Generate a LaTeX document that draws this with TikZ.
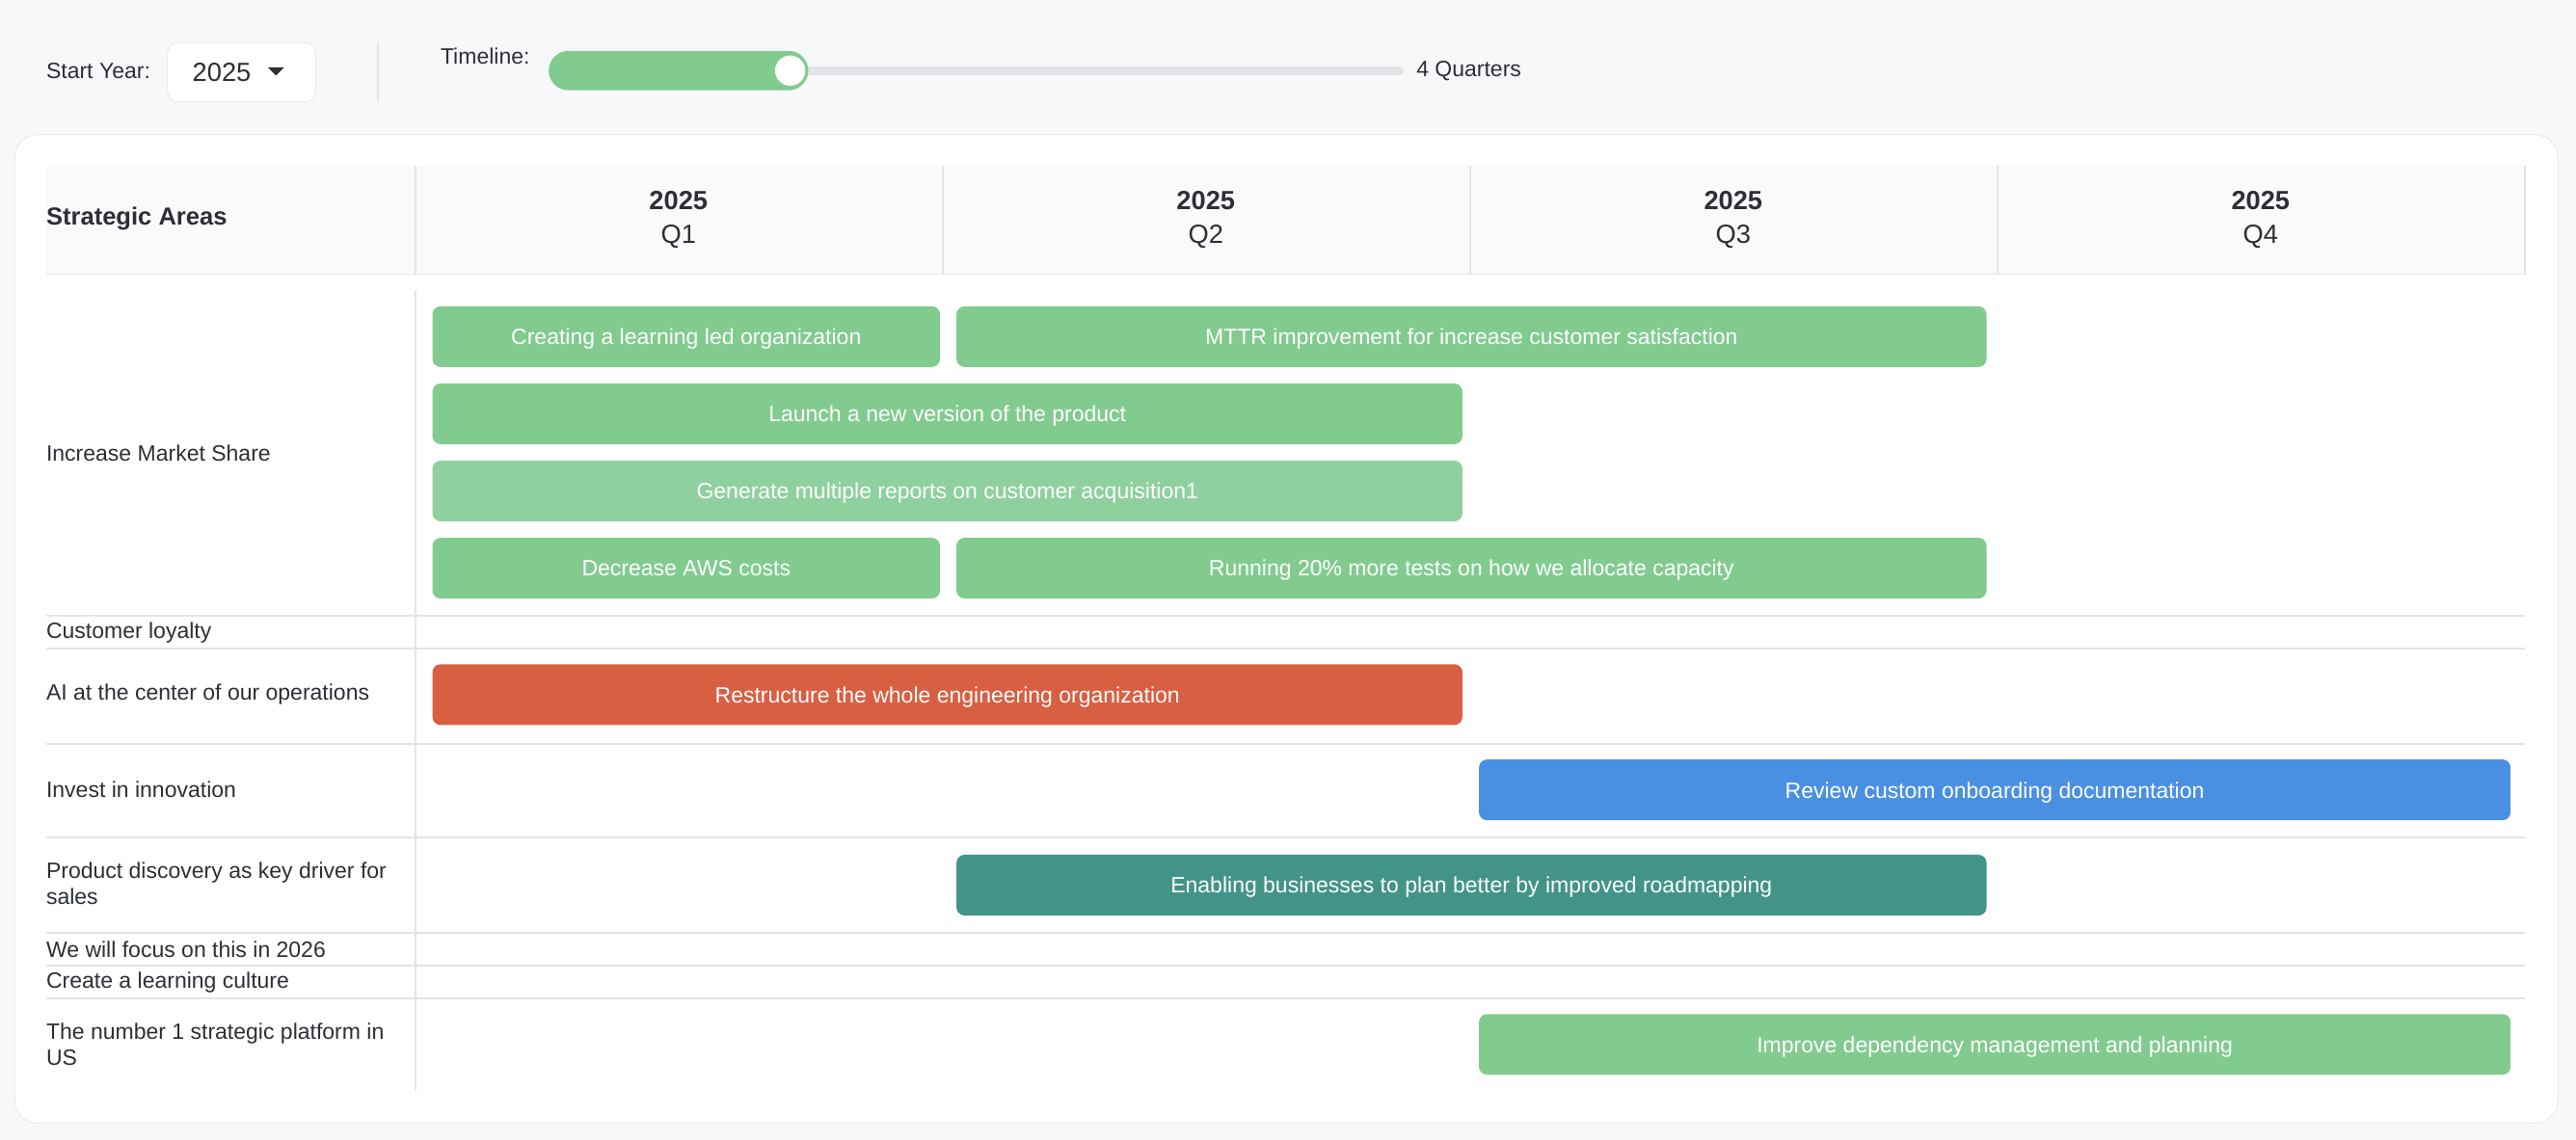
\documentclass[tikz,border=0pt]{standalone}
\usepackage{fontspec}
\setmainfont{Liberation Sans}
\definecolor{pagebg}{HTML}{F7F8FA}
\definecolor{gridline}{HTML}{E2E4E8}
\definecolor{barg}{HTML}{82CB8F}
\definecolor{bargl}{HTML}{8FD19E}
\definecolor{barred}{HTML}{D95F43}
\definecolor{barblue}{HTML}{4A90E2}
\definecolor{barteal}{HTML}{429488}
\definecolor{txt}{HTML}{2B2F36}
\tikzset{
  lbl/.style={anchor=west,inner sep=0pt,text=txt,font=\fontsize{13.5}{16}\selectfont,align=left},
  bar/.style={rounded corners=5pt,minimum height=37pt,anchor=west,inner xsep=9pt,text=white,
    font=\fontsize{13.5}{16}\selectfont,text depth=0pt},
  hd/.style={text=txt,font=\fontsize{16}{18}\selectfont,align=center},
  grid/.style={draw=gridline,line width=1pt}
}
\newcommand{\gbar}[5]{\node[bar,fill=#5,minimum width=#3-#2] (#1) at (#2,#4) {\strut\smash{#1text}};}
\begin{document}
\begin{tikzpicture}[x=1pt,y=-1pt]
  \useasboundingbox (0,0) rectangle (1568,694);
  \fill[pagebg] (0,0) rectangle (1568,694);
  %=========================================== toolbar
  \node[lbl] (year) at (28,43) {Start Year:};
  \draw[draw=gridline,fill=white,rounded corners=6pt] (102,26) rectangle (192,62);
  \node[lbl,font=\fontsize{16}{18}\selectfont] (yearval) at (117,44) {2025};
  \fill[txt] (163,41) -- (173,41) -- (168,46) -- cycle;
  \draw[grid] (230,25) -- (230,62);
  \node[lbl] (tl) at (268,34) {Timeline:};
  \draw[gridline,line width=5pt,line cap=round] (340,43) -- (852,43);
  \fill[barg,rounded corners=12pt] (334,31) rectangle (492,55);
  \draw[white,fill=white] (481,43) circle (9pt);
  \node[lbl] (quarters) at (862,43) {4 Quarters};
  %=========================================== card
  \draw[gridline,fill=white,rounded corners=14pt] (9,82) rectangle (1557,684);
  \fill[black!2] (28,101) rectangle (1537,167);
  \foreach \x in {253,574,895,1216,1537} \draw[grid] (\x,101) -- (\x,167);
  \node[lbl,font=\bfseries\fontsize{15}{18}\selectfont] (areas) at (28,133) {Strategic Areas};
  \foreach \x/\q in {413/1,734/2,1055/3,1376/4}{
    \node[hd,font=\bfseries\fontsize{16}{18}\selectfont] (y\q) at (\x,122) {2025};
    \node[hd] (q\q) at (\x,144) {Q\q};}
  \foreach \y in {167,375,395,453,510,568,588,608} \draw[grid] (28,\y) -- (1537,\y);
  \draw[grid] (253,177) -- (253,664);
  %=========================================== rows
  \node[lbl] (r1) at (28,276) {Increase Market Share};
  \node[lbl] (r2) at (28,385) {Customer loyalty};
  \node[lbl] (r3) at (28,423) {AI at the center of our operations};
  \node[lbl] (r4) at (28,481) {Invest in innovation};
  \node[lbl] (r5) at (28,538) {Product discovery as key driver for\\sales};
  \node[lbl] (r6) at (28,578) {We will focus on this in 2026};
  \node[lbl] (r7) at (28,598) {Create a learning culture};
  \node[lbl] (r8) at (28,636) {The number 1 strategic platform in\\US};
  %=========================================== bars
  \node[bar,fill=barg,minimum width=309pt] (b1) at (263,205) {Creating a learning led organization};
  \node[bar,fill=barg,minimum width=627pt] (b2) at (582,205) {MTTR improvement for increase customer satisfaction};
  \node[bar,fill=barg,minimum width=627pt] (b3) at (263,252) {Launch a new version of the product};
  \node[bar,fill=bargl,minimum width=627pt] (b4) at (263,299) {Generate multiple reports on customer acquisition1};
  \node[bar,fill=barg,minimum width=309pt] (b5) at (263,346) {Decrease AWS costs};
  \node[bar,fill=barg,minimum width=627pt] (b6) at (582,346) {Running 20\% more tests on how we allocate capacity};
  \node[bar,fill=barred,minimum width=627pt] (b7) at (263,423) {Restructure the whole engineering organization};
  \node[bar,fill=barblue,minimum width=628pt] (b8) at (900,481) {Review custom onboarding documentation};
  \node[bar,fill=barteal,minimum width=627pt] (b9) at (582,539) {Enabling businesses to plan better by improved roadmapping};
  \node[bar,fill=barg,minimum width=628pt] (b10) at (900,636) {Improve dependency management and planning};
\end{tikzpicture}
\end{document}
